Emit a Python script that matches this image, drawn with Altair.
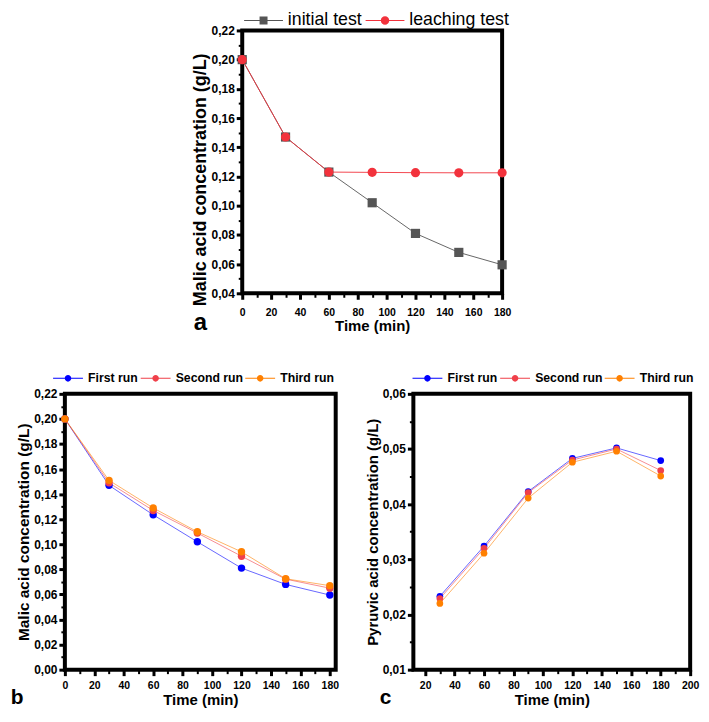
import altair as alt
import pandas as pd

FONT = "Liberation Sans"

# ---------------- Panel a ----------------
time_a = [0, 30, 60, 90, 120, 150, 180]
initial_test = [0.200, 0.147, 0.123, 0.102, 0.081, 0.068, 0.0595]
leaching_test = [0.200, 0.147, 0.123, 0.1228, 0.1226, 0.1225, 0.1225]
series_a = ["initial test", "leaching test"]
colors_a = ["#555555", "#f2323c"]

# ---------------- Panel b (malic acid, reuse runs) ----------------
time_b = [0, 30, 60, 90, 120, 150, 180]
malic_first = [0.200, 0.147, 0.1235, 0.102, 0.081, 0.068, 0.0595]
malic_second = [0.200, 0.149, 0.127, 0.109, 0.0905, 0.0722, 0.065]
malic_third = [0.200, 0.151, 0.129, 0.110, 0.094, 0.0725, 0.067]

# ---------------- Panel c (pyruvic acid, reuse runs) ----------------
time_c = [30, 60, 90, 120, 150, 180]
pyruvic_first = [0.0233, 0.0324, 0.0423, 0.0483, 0.0502, 0.0479]
pyruvic_second = [0.0229, 0.0320, 0.0421, 0.0480, 0.0500, 0.0461]
pyruvic_third = [0.0220, 0.0311, 0.0411, 0.0476, 0.0496, 0.0451]

series_runs = ["First run", "Second run", "Third run"]
colors_runs = ["#0000ff", "#f0404a", "#ff8000"]

# axis ticks
x_major_a = [0, 20, 40, 60, 80, 100, 120, 140, 160, 180]
x_minor_a = [10, 30, 50, 70, 90, 110, 130, 150, 170]
y_major_a = [0.04, 0.06, 0.08, 0.10, 0.12, 0.14, 0.16, 0.18, 0.20, 0.22]
y_minor_a = [0.05, 0.07, 0.09, 0.11, 0.13, 0.15, 0.17, 0.19, 0.21]

x_major_b = [0, 20, 40, 60, 80, 100, 120, 140, 160, 180]
x_minor_b = [10, 30, 50, 70, 90, 110, 130, 150, 170]
y_major_b = [0.00, 0.02, 0.04, 0.06, 0.08, 0.10, 0.12, 0.14, 0.16, 0.18, 0.20, 0.22]
y_minor_b = [0.01, 0.03, 0.05, 0.07, 0.09, 0.11, 0.13, 0.15, 0.17, 0.19, 0.21]

x_major_c = [20, 40, 60, 80, 100, 120, 140, 160, 180, 200]
x_minor_c = [30, 50, 70, 90, 110, 130, 150, 170, 190]
y_major_c = [0.01, 0.02, 0.03, 0.04, 0.05, 0.06]
y_minor_c = [0.015, 0.025, 0.035, 0.045, 0.055]

# legend symbols (line + marker) as SVG paths, symbol size 100 -> 1 unit = 5 px
LINE_SQUARE = "M-3.9,-0.1H3.9V0.1H-3.9Z M-0.8,-0.8H0.8V0.8H-0.8Z"
LINE_CIRCLE_A = ("M-3.9,-0.1H-0.75V0.1H-3.9Z M0.75,-0.1H3.9V0.1H0.75Z "
                 "M0.85,0A0.85,0.85 0 1,1 -0.85,0A0.85,0.85 0 1,1 0.85,0Z")
LINE_CIRCLE = ("M-3,-0.1H-0.6V0.1H-3Z M0.6,-0.1H3V0.1H0.6Z "
               "M0.66,0A0.66,0.66 0 1,1 -0.66,0A0.66,0.66 0 1,1 0.66,0Z")


def long_df(times, names, values_list):
    rows = []
    for n, vals in zip(names, values_list):
        for t, v in zip(times, vals):
            rows.append({"time": t, "value": v, "series": n})
    return pd.DataFrame(rows)


COMMA = "replace(format(datum.value, '.2f'), '.', ',')"


def panel(df, series, colors, point_groups, point_size, line_opacity,
          x_domain, x_major, x_minor, y_domain, y_major, y_minor,
          width, height, y_title, y_title_size, y_title_y, x_label_pad,
          legend_paths, legend_x, legend_y, legend_font_size,
          legend_weight, legend_label_offset, legend_col_pad,
          label, label_dx, label_dy, label_size):
    xs = alt.Scale(domain=x_domain, nice=False, zero=False)
    ys = alt.Scale(domain=y_domain, nice=False, zero=False)
    cscale = alt.Scale(domain=series, range=colors)
    color_noleg = alt.Color("series:N", scale=cscale, legend=None)

    x_axis = alt.Axis(values=x_major, title="Time (min)", orient="bottom", grid=False,
                      domain=False, tickSize=6, tickWidth=3, tickColor="black",
                      labelFont=FONT, labelFontSize=10.5, labelFontWeight="bold",
                      labelColor="black", labelPadding=x_label_pad, labelFlush=False,
                      labelOverlap=False, titleFont=FONT, titleFontSize=15,
                      titleFontWeight="bold", titleColor="black", titlePadding=1)
    y_kw = dict(values=y_major, title=y_title, orient="left", grid=False, domain=False,
                tickSize=6, tickWidth=3, tickColor="black", labelExpr=COMMA,
                labelFont=FONT, labelFontSize=12, labelFontWeight="bold",
                labelColor="black", labelPadding=2, labelFlush=False, labelOverlap=False,
                titleFont=FONT, titleFontSize=y_title_size, titleFontWeight="bold",
                titleColor="black", titlePadding=2)
    if y_title_y is not None:
        y_kw["titleY"] = y_title_y
    y_axis = alt.Axis(**y_kw)

    base = alt.Chart(df)
    layers = [
        base.mark_line(strokeWidth=1, opacity=line_opacity).encode(
            x=alt.X("time:Q", scale=xs, axis=x_axis),
            y=alt.Y("value:Q", scale=ys, axis=y_axis),
            color=color_noleg,
        )
    ]
    for shp, members in point_groups:
        layers.append(
            base.transform_filter(alt.FieldOneOfPredicate(field="series", oneOf=members))
            .mark_point(filled=True, shape=shp, size=point_size, opacity=1)
            .encode(
                x=alt.X("time:Q", scale=xs, axis=None),
                y=alt.Y("value:Q", scale=ys, axis=None),
                color=color_noleg,
            )
        )

    leg = alt.Legend(title=None, orient="none", legendX=legend_x, legendY=legend_y,
                     direction="horizontal", columns=len(series),
                     symbolSize=100, symbolStrokeWidth=0, symbolOpacity=1,
                     labelFont=FONT, labelFontSize=legend_font_size,
                     labelFontWeight=legend_weight, labelColor="black",
                     labelOffset=legend_label_offset, columnPadding=legend_col_pad,
                     padding=0)
    layers.append(
        base.mark_point(filled=True, size=100, opacity=0).encode(
            x=alt.X("time:Q", scale=xs, axis=None),
            y=alt.Y("value:Q", scale=ys, axis=None),
            color=alt.Color("series:N", scale=alt.Scale(domain=series, range=colors), legend=leg),
            shape=alt.Shape("series:N", scale=alt.Scale(domain=series, range=legend_paths),
                            legend=leg),
        )
    )

    minor_ax = dict(labels=False, title=None, grid=False, domain=False, tickSize=4,
                    tickWidth=2, tickColor="black")
    layers.append(
        base.transform_filter("false").mark_point().encode(
            x=alt.X("time:Q", scale=xs, axis=alt.Axis(values=x_minor, orient="bottom", **minor_ax)),
            y=alt.Y("value:Q", scale=ys, axis=alt.Axis(values=y_minor, orient="left", **minor_ax)),
        )
    )

    layers.append(
        alt.Chart(pd.DataFrame({"panel": [label]})).mark_text(
            font=FONT, fontSize=label_size, fontWeight="bold", color="black",
            align="center", baseline="middle",
        ).encode(text="panel:N", x=alt.value(label_dx), y=alt.value(height + label_dy))
    )

    return (alt.layer(*layers)
            .resolve_axis(x="independent", y="independent")
            .resolve_scale(color="independent", shape="independent")
            .resolve_legend(color="independent", shape="independent")
            .properties(width=width, height=height))


df_a = long_df(time_a, series_a, [initial_test, leaching_test])
df_b = long_df(time_b, series_runs, [malic_first, malic_second, malic_third])
df_c = long_df(time_c, series_runs, [pyruvic_first, pyruvic_second, pyruvic_third])

pa = panel(df_a, series_a, colors_a, [("square", ["initial test"]), ("circle", ["leaching test"])],
           85, 0.9, [0, 180], x_major_a, x_minor_a, [0.04, 0.22], y_major_a, y_minor_a,
           261, 264, "Malic acid concentration (g/L)", 18, 149.5, 8,
           [LINE_SQUARE, LINE_CIRCLE_A], 12.5, -19, 17.8, "normal", 15.5, 3,
           "a", -42, 30, 24)

pb = panel(df_b, series_runs, colors_runs, [("circle", series_runs)],
           55, 0.6, [0, 184], x_major_b, x_minor_b, [0.0, 0.22], y_major_b, y_minor_b,
           272, 277, "Malic acid concentration (g/L)", 15.5, None, 5,
           [LINE_CIRCLE] * 3, -3, -22, 12.3, "bold", 14, 2,
           "b", -48, 28, 21)

pc = panel(df_c, series_runs, colors_runs, [("circle", series_runs)],
           45, 0.6, [12, 200], x_major_c, x_minor_c, [0.01, 0.06], y_major_c, y_minor_c,
           278, 277, "Pyruvic acid concentration (g/L)", 15, None, 5,
           [LINE_CIRCLE] * 3, 8, -22, 12.3, "bold", 14, 2,
           "c", -28, 28, 21)

bottom = alt.hconcat(pb, pc, spacing=15).resolve_scale(
    color="independent", shape="independent").resolve_legend(
    color="independent", shape="independent")
chart = (
    alt.vconcat(pa, bottom, spacing=33, center=True)
    .resolve_scale(color="independent", shape="independent")
    .resolve_legend(color="independent", shape="independent")
    .configure(padding=0, background="white")
    .configure_view(stroke="black", strokeWidth=4)
)

chart.save("out.html", embed_options={"renderer": "svg", "actions": False})
